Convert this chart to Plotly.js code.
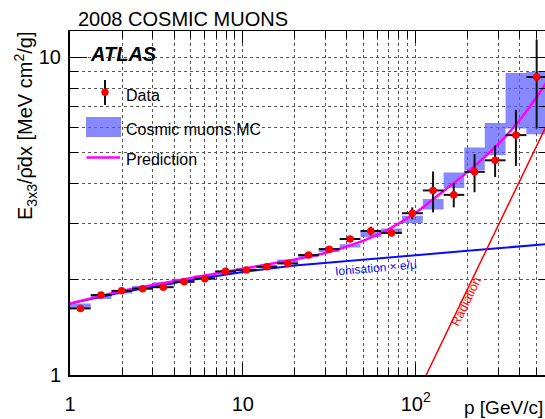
<!DOCTYPE html>
<html>
<head>
<meta charset="utf-8">
<script src="https://cdn.plot.ly/plotly-3.0.1.min.js"></script>
<style>
html,body{margin:0;padding:0;overflow:hidden;background:#fff;}
#chart{width:547px;height:419px;}
</style>
</head>
<body>
<div id="chart"></div>
<script>
// ---- data ----
const binEdges = [1.0, 1.318, 1.738, 2.29, 3.02, 3.98, 5.25, 6.92, 9.12, 12.0, 15.8, 20.9, 27.5, 36.3, 47.9, 63.1, 83.2, 110, 145, 191, 251, 331, 437, 575];
const dataP = [1.15, 1.51, 1.99, 2.63, 3.47, 4.57, 6.03, 7.94, 10.5, 13.8, 18.2, 24.0, 31.6, 41.7, 55.0, 72.4, 95.5, 126, 166, 219, 288, 380, 501];
const dataY = [1.62, 1.785, 1.84, 1.87, 1.89, 1.965, 2.01, 2.12, 2.14, 2.19, 2.245, 2.385, 2.49, 2.68, 2.84, 2.80, 3.23, 3.81, 3.69, 4.36, 4.74, 5.69, 8.67];
const dataErr = [0.02, 0.02, 0.02, 0.02, 0.02, 0.02, 0.02, 0.02, 0.02, 0.03, 0.03, 0.03, 0.04, 0.04, 0.09, 0.05, 0.14, 0.56, 0.32, 0.60, 0.54, 1.14, 2.70];
const mcLo = [1.625, 1.735, 1.805, 1.86, 1.915, 1.965, 2.02, 2.085, 2.12, 2.17, 2.26, 2.35, 2.44, 2.52, 2.72, 2.79, 3.01, 3.32, 3.88, 4.41, 4.92, 5.97, 5.73];
const mcHi = [1.68, 1.785, 1.85, 1.905, 1.96, 2.01, 2.06, 2.12, 2.165, 2.22, 2.31, 2.40, 2.51, 2.58, 2.82, 2.89, 3.17, 3.58, 4.34, 5.20, 6.21, 8.93, 8.99];
const predP = [1, 2, 5, 10, 20, 30, 50, 70, 100, 150, 200, 300, 400, 560, 600];
const predY = [1.68, 1.84, 2.02, 2.16, 2.31, 2.42, 2.65, 2.88, 3.24, 3.85, 4.36, 5.33, 6.35, 8.2, 8.7];
const ionP = [1, 2, 5, 10, 20, 50, 100, 200, 560, 600];
const ionY = [1.68, 1.82, 1.99, 2.11, 2.21, 2.31, 2.39, 2.46, 2.58, 2.59];
const radP = [100, 115, 200, 300, 575, 620];
const radY = [0.85, 1.0, 1.87, 2.95, 6.2, 6.7];
const xTickVals = [1, 10, 100];
const xTickText = ['1', '10', '10<sup>2</sup>'];
const xMinorVals = [2,3,4,5,6,7,8,9,20,30,40,50,60,70,80,90,200,300,400,500];
const yTickVals = [1, 10];
const yTickText = ['1', '10'];
const yMinorVals = [2,3,4,5,6,7,8,9];

// ---- derived ----
const lo = binEdges.slice(0, -1), hi = binEdges.slice(1);
const errPlus = dataP.map((p, i) => hi[i] - p);
const errMinus = dataP.map((p, i) => p - lo[i]);
const boxX = [], boxY = [];
mcLo.forEach((v, i) => {
  boxX.push(lo[i], hi[i], hi[i], lo[i], lo[i], null);
  boxY.push(v, v, mcHi[i], mcHi[i], v, null);
});

const FONT = 'Liberation Sans, Arial, Helvetica, sans-serif';
const MCFILL = 'rgba(92,92,255,0.72)';

const traces = [
  {x: boxX, y: boxY, type: 'scatter', mode: 'lines', fill: 'toself', fillcolor: MCFILL,
   line: {width: 0, color: MCFILL}, hoverinfo: 'skip', connectgaps: false},
  {x: ionP, y: ionY, type: 'scatter', mode: 'lines', line: {color: '#0a0aff', width: 2}},
  {x: radP, y: radY, type: 'scatter', mode: 'lines', line: {color: '#ff0000', width: 1.5}},
  {x: predP, y: predY, type: 'scatter', mode: 'lines', line: {color: '#ff00ff', width: 2.5, shape: 'spline', smoothing: 0.6}},
  {x: dataP, y: dataY, type: 'scatter', mode: 'markers',
   marker: {color: '#ff0000', size: 7.5},
   error_y: {type: 'data', array: dataErr, color: '#111', thickness: 2, width: 0},
   error_x: {type: 'data', symmetric: false, array: errPlus, arrayminus: errMinus, color: '#111', thickness: 2, width: 0}}
];

// pixel -> paper helpers (plot area: 70..547 x, 31..375 y)
const L = 70, R = 547, T = 31, B = 375;
const px = v => (v - L) / (R - L);
const py = v => (B - v) / (B - T);

const ann = (text, x, y, opts) => Object.assign({text, x: px(x), y: py(y), xref: 'paper', yref: 'paper',
  showarrow: false, font: {family: FONT, size: 16, color: '#000'}}, opts);

const layout = {
  width: 547, height: 419,
  margin: {l: L, r: 0, t: T, b: 419 - B, pad: 0},
  paper_bgcolor: '#fff', plot_bgcolor: '#fff',
  showlegend: false,
  font: {family: FONT, color: '#000'},
  xaxis: {
    type: 'log', range: [0, Math.log10(575)],
    tickmode: 'array', tickvals: xTickVals, ticktext: xTickText,
    ticks: 'inside', ticklen: 12, tickwidth: 1, tickcolor: '#000',
    tickfont: {family: FONT, size: 20, color: '#000'}, ticklabelstandoff: 10,
    showgrid: true, gridcolor: '#555', griddash: 'dot', gridwidth: 1,
    minor: {tickmode: 'array', tickvals: xMinorVals, ticks: 'inside', ticklen: 7, tickcolor: '#000',
            showgrid: true, gridcolor: '#555', griddash: 'dot', gridwidth: 1},
    showline: true, linecolor: '#000', linewidth: 1.5, mirror: 'allticks', zeroline: false
  },
  yaxis: {
    type: 'log', range: [0, Math.log10(12.1)],
    tickmode: 'array', tickvals: yTickVals, ticktext: yTickText,
    ticks: 'inside', ticklen: 17, tickwidth: 1, tickcolor: '#000',
    tickfont: {family: FONT, size: 20, color: '#000'}, ticklabelstandoff: 3,
    showgrid: true, gridcolor: '#555', griddash: 'dot', gridwidth: 1,
    minor: {tickmode: 'array', tickvals: yMinorVals, ticks: 'inside', ticklen: 8, tickcolor: '#000',
            showgrid: true, gridcolor: '#555', griddash: 'dot', gridwidth: 1},
    showline: true, linecolor: '#000', linewidth: 2, mirror: 'allticks', zeroline: false
  },
  annotations: [
    ann('2008 COSMIC MUONS', 76, 19, {xanchor: 'left', yanchor: 'middle', font: {family: FONT, size: 20, color: '#000'}}),
    ann('<b><i>ATLAS</i></b>', 88, 54, {xanchor: 'left', yanchor: 'middle', font: {family: FONT, size: 20, color: '#000'}}),
    ann('Data', 124, 95, {xanchor: 'left', yanchor: 'middle'}),
    ann('Cosmic muons MC', 124, 129, {xanchor: 'left', yanchor: 'middle'}),
    ann('Prediction', 124, 159, {xanchor: 'left', yanchor: 'middle'}),
    ann('E<sub>3x3</sub>/\u03C1\u0304dx [MeV cm<sup>2</sup>/g]', 25, 30, {xanchor: 'center', yanchor: 'top', textangle: -90,
        font: {family: FONT, size: 20, color: '#000'}}),
    ann('p [GeV/c]', 545, 407, {xanchor: 'right', yanchor: 'middle', font: {family: FONT, size: 19, color: '#000'}}),
    ann('Ionisation \u00D7 e/\u03BC', 376, 268, {xanchor: 'center', yanchor: 'middle', textangle: -5,
        font: {family: FONT, size: 12, color: '#0a0aff'}}),
    ann('Radiation', 466, 302, {xanchor: 'center', yanchor: 'middle', textangle: -64,
        font: {family: FONT, size: 12.5, color: '#ff0000'}})
  ],
  shapes: [
    {type: 'line', xref: 'paper', yref: 'paper', x0: px(105), x1: px(105), y0: py(80), y1: py(105), line: {color: '#111', width: 2}},
    {type: 'circle', xref: 'paper', yref: 'paper', x0: px(101.3), x1: px(108.7), y0: py(88.6), y1: py(96), fillcolor: '#ff0000', line: {width: 0}},
    {type: 'rect', xref: 'paper', yref: 'paper', x0: px(86), x1: px(121), y0: py(117), y1: py(137), fillcolor: MCFILL, line: {width: 0}},
    {type: 'line', xref: 'paper', yref: 'paper', x0: px(86.5), x1: px(120), y0: py(157.5), y1: py(157.5), line: {color: '#ff00ff', width: 2.5}}
  ]
};

Plotly.newPlot('chart', traces, layout, {staticPlot: true, displayModeBar: false});
</script>
</body>
</html>
